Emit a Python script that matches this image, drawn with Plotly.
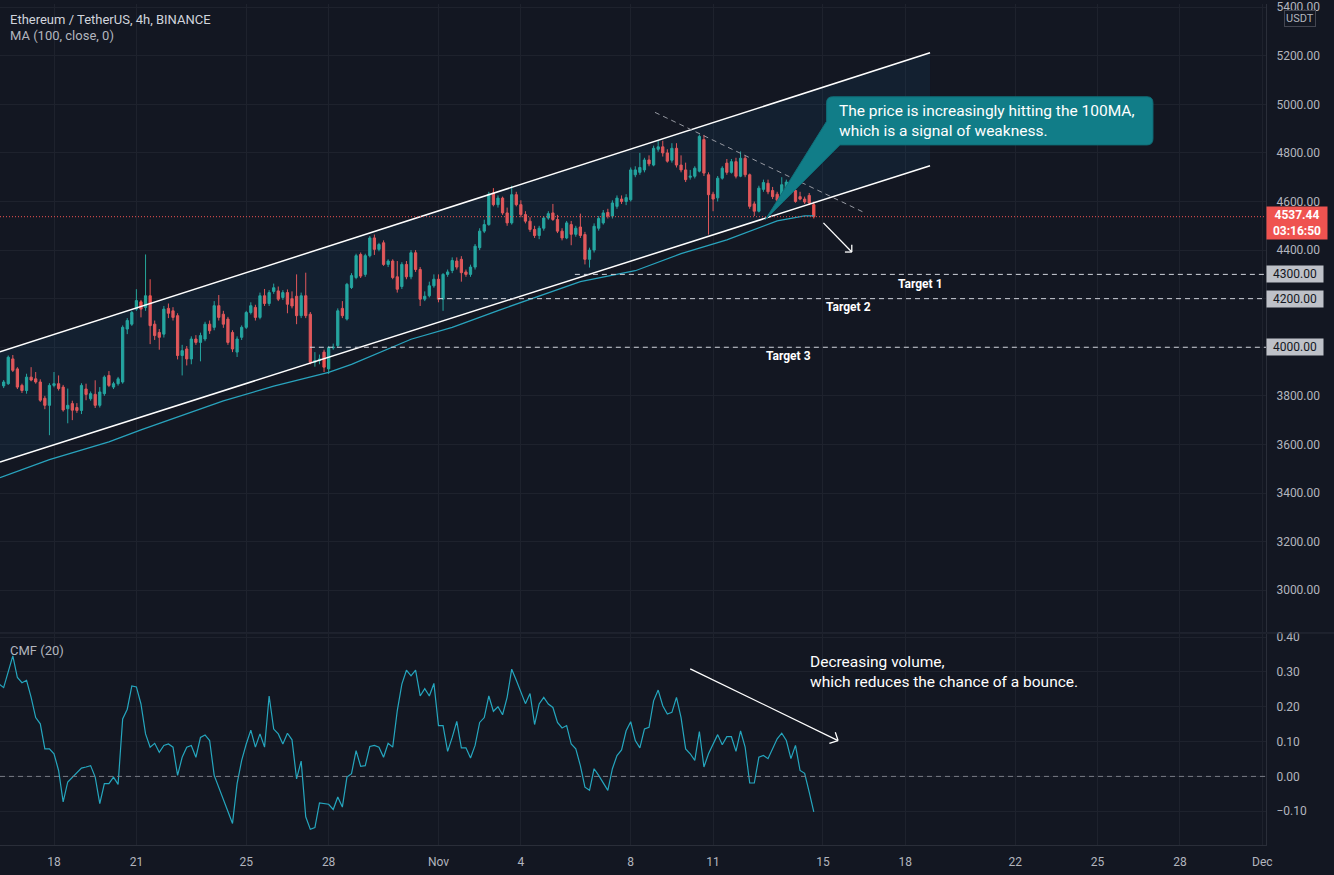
import pandas as pd
import plotly.graph_objects as go
from plotly.subplots import make_subplots

# ---------------- data ----------------
ORIGIN = pd.Timestamp("2021-10-16 00:00")
BAR = pd.Timedelta(hours=4)
FIRST_BAR = pd.Timestamp("2021-10-16 04:00")

opens = [3841,3850,3952,3911,3843,3822,3877,3870,3857,3790,
         3761,3843,3850,3836,3747,3768,3752,3740,3828,3788,
         3806,3761,3809,3884,3836,3850,3857,4075,4095,4157,
         4187,4164,4212,4095,4061,4054,4160,4150,4130,3966,
         3993,3952,4034,4020,4034,4095,4082,4171,4136,4116,
         4061,3980,4041,4082,4143,4164,4123,4212,4180,4230,
         4232,4205,4225,4200,4210,4130,4212,4136,3938,3945,
         3980,3911,3998,4007,4160,4116,4246,4287,4382,4300,
         4377,4450,4403,4430,4341,4355,4290,4250,4341,4290,
         4389,4320,4198,4212,4253,4280,4198,4300,4316,4355,
         4362,4310,4300,4330,4410,4478,4505,4635,4587,4614,
         4553,4512,4628,4587,4546,4519,4485,4460,4490,4532,
         4553,4526,4478,4450,4505,4465,4495,4464,4362,4400,
         4490,4512,4555,4540,4580,4610,4600,4607,4710,4720,
         4730,4771,4750,4815,4825,4800,4770,4819,4750,4730,
         4700,4704,4725,4855,4710,4630,4615,4696,4758,4720,
         4764,4704,4778,4710,4590,4560,4650,4675,4645,4630,
         4605,4650,4670,4645,4620,4610,4625,4587]
highs = [3865,3966,3968,3918,3850,3891,3918,3898,3868,3800,
         3852,3898,3884,3845,3830,3780,3770,3852,3850,3818,
         3864,3836,3884,3902,3858,3878,4090,4120,4150,4239,
         4195,4382,4280,4110,4075,4170,4180,4165,4140,4010,
         4005,4045,4050,4060,4105,4110,4190,4215,4150,4125,
         4070,4045,4090,4150,4185,4175,4225,4240,4235,4262,
         4250,4235,4238,4230,4300,4225,4307,4145,3980,3970,
         3990,4005,4015,4160,4190,4265,4305,4385,4390,4385,
         4458,4464,4430,4440,4362,4362,4355,4350,4355,4400,
         4400,4330,4230,4270,4300,4300,4305,4320,4370,4370,
         4375,4320,4340,4425,4490,4525,4640,4655,4625,4620,
         4575,4665,4640,4605,4560,4535,4500,4500,4540,4560,
         4590,4545,4490,4520,4520,4500,4550,4475,4410,4510,
         4540,4565,4570,4605,4625,4625,4630,4740,4745,4800,
         4780,4790,4830,4850,4850,4815,4840,4840,4790,4760,
         4730,4745,4875,4874,4720,4640,4705,4745,4775,4775,
         4780,4806,4790,4715,4600,4665,4690,4690,4660,4640,
         4700,4690,4680,4655,4640,4620,4635,4600]
lows = [3832,3845,3898,3828,3812,3809,3860,3850,3775,3745,
        3638,3835,3822,3735,3687,3700,3730,3725,3782,3780,
        3750,3752,3800,3836,3828,3842,3850,4054,4088,4150,
        4123,4150,4013,4030,3990,4040,4120,4110,3950,3884,
        3925,3930,4010,3942,4025,4055,4070,4110,4080,4010,
        3980,3960,4030,4075,4135,4110,4115,4170,4170,4220,
        4190,4195,4140,4160,4095,4120,4120,3930,3920,3930,
        3898,3890,3990,4000,4120,4110,4240,4280,4285,4290,
        4370,4380,4395,4335,4330,4280,4225,4240,4280,4280,
        4310,4170,4190,4205,4245,4185,4150,4290,4305,4320,
        4270,4290,4290,4320,4400,4470,4500,4580,4575,4545,
        4500,4505,4580,4535,4510,4475,4450,4445,4480,4525,
        4520,4470,4440,4445,4420,4455,4450,4341,4328,4390,
        4480,4505,4530,4530,4570,4590,4585,4600,4700,4710,
        4720,4745,4745,4805,4785,4760,4760,4740,4720,4680,
        4690,4695,4720,4705,4464,4560,4600,4690,4710,4715,
        4695,4700,4700,4570,4540,4555,4640,4630,4610,4595,
        4600,4640,4630,4595,4605,4590,4585,4530]
closes = [3857,3959,3905,3836,3822,3877,3865,3857,3782,3761,
          3843,3850,3830,3742,3761,3741,3740,3843,3806,3809,
          3761,3816,3877,3843,3850,3870,4082,4110,4143,4192,
          4157,4212,4089,4048,4041,4157,4140,4123,3966,3986,
          3952,4034,4020,4048,4095,4068,4171,4123,4095,4020,
          3993,4034,4082,4143,4171,4123,4212,4180,4225,4245,
          4198,4225,4177,4170,4130,4212,4130,3938,3945,3952,
          3918,3998,4000,4150,4130,4259,4295,4377,4293,4377,
          4450,4403,4423,4341,4355,4287,4239,4341,4290,4389,
          4320,4198,4210,4253,4280,4198,4300,4310,4357,4330,
          4307,4300,4330,4416,4478,4505,4630,4587,4614,4553,
          4512,4628,4587,4546,4519,4485,4460,4490,4532,4550,
          4526,4478,4450,4512,4465,4490,4460,4362,4400,4498,
          4530,4553,4540,4594,4614,4600,4616,4730,4730,4740,
          4771,4755,4819,4825,4800,4766,4819,4750,4730,4690,
          4704,4737,4868,4717,4628,4610,4696,4737,4720,4764,
          4704,4778,4710,4580,4560,4655,4678,4640,4620,4605,
          4669,4680,4640,4600,4610,4598,4594,4537.44]

# MA(100) at selected bars (bar index, price)
ma_idx = [0.2, 11, 24, 31, 49, 60, 72, 77, 90, 99, 109, 119, 127, 139, 149, 159, 170, 176, 178]
ma_val = [3463, 3537, 3611, 3660, 3779, 3840, 3897, 3930, 4033, 4082, 4151, 4217, 4270, 4315,
          4385, 4442, 4520, 4541, 4541]

# CMF(20) (bar index, value)
cmf_idx = [0,1,3,4,5,6,7,8,9,10,11,12,13,14,15,16,17,18,19,20,21,22,23,24,25,26,27,28,29,30,
           31,32,33,34,35,36,37,38,39,40,41,42,43,44,45,46,47,48,49,51,52,53,54,55,56,57,58,59,60,
           61,62,63,64,65,66,67,68,69,70,71,72,73,74,75,76,77,78,79,80,81,82,83,84,85,86,87,88,89,90,
           91,92,93,94,95,96,97,98,99,100,101,102,103,104,105,106,107,108,109,110,111,112,113,114,115,
           116,117,118,119,120,121,122,123,124,125,126,127,128,129,130,131,133,134,135,136,137,138,139,
           140,141,142,143,144,145,146,147,148,149,150,151,152,153,154,155,156,157,158,159,160,161,162,
           163,164,165,166,167,168,169,170,171,172,173,174,175,176,177,178]
cmf_val = [0.265,0.255,0.346,0.284,0.269,0.276,0.227,0.169,0.151,0.079,0.079,0.065,0.017,-0.073,
           -0.016,-0.002,0.012,0.024,0.027,0.031,-0.002,-0.078,-0.021,-0.021,-0.002,-0.023,0.165,
           0.193,0.26,0.257,0.208,0.122,0.084,0.095,0.069,0.089,0.093,0.084,0.003,0.055,0.084,0.089,
           0.055,0.112,0.119,0.103,0.003,-0.031,-0.069,-0.135,-0.021,0.046,0.093,0.133,0.084,0.122,
           0.084,0.231,0.136,0.122,0.093,0.124,0.105,-0.007,0.044,-0.116,-0.152,-0.147,-0.076,-0.078,
           -0.08,-0.095,-0.059,-0.088,-0.002,0.008,0.074,0.029,0.031,0.086,0.089,0.084,0.055,0.095,
           0.084,0.189,0.265,0.305,0.289,0.305,0.231,0.252,0.231,0.267,0.146,0.146,0.072,0.112,0.158,
           0.082,0.082,0.053,0.089,0.155,0.169,0.231,0.187,0.2,0.177,0.227,0.308,0.276,0.241,0.209,
           0.238,0.149,0.208,0.227,0.208,0.198,0.155,0.139,0.146,0.093,0.079,0.031,-0.031,-0.04,0.022,
           0.003,-0.04,0.022,0.06,0.076,0.131,0.157,0.103,0.082,0.136,0.141,0.217,0.248,0.203,0.179,
           0.184,0.227,0.169,0.079,0.065,0.046,0.129,0.027,0.065,0.095,0.12,0.091,0.114,0.114,0.072,
           0.131,0.084,-0.019,-0.019,0.055,0.06,0.051,0.082,0.108,0.124,0.103,0.051,0.089,0.017,0.009,
           -0.045,-0.102]

tick_dates = ["2021-10-18", "2021-10-21", "2021-10-25", "2021-10-28", "2021-11-01", "2021-11-04",
              "2021-11-08", "2021-11-11", "2021-11-15", "2021-11-18", "2021-11-22", "2021-11-25",
              "2021-11-28", "2021-12-01"]
tick_text = ["18", "21", "25", "28", "Nov", "4", "8", "11", "15", "18", "22", "25", "28", "Dec"]

price_ticks = [3000, 3200, 3400, 3600, 3800, 4000, 4200, 4400, 4600, 4800, 5000, 5200, 5400]
cmf_ticks = [-0.1, 0.0, 0.1, 0.2, 0.3, 0.4]

last_price = 4537.44
countdown = "03:16:50"

targets = [4300, 4200, 4000]
target_names = ["Target 1", "Target 2", "Target 3"]
target_start = [125.8, 95.9, 67.9]
target_label_x = [201.4, 185.5, 172.4]
target_label_y = [4262, 4164, 3963]

callout_text = ["The price is increasingly hitting the 100MA,", "which is a signal of weakness."]
cmf_note = ["Decreasing volume,", "which reduces the chance of a bounce."]

# drawings (bar index / price)
channel_x = [0.2, 203.4]
channel_upper = [3981, 5212]
channel_lower = [3528, 4747]
trend_x = [143.3, 189.2]
trend_y = [4967, 4553]

# ---------------- style ----------------
BG = "#131722"
GRID = "#1e222d"
TXT = "#b2b5be"
UP = "#26a69a"
DOWN = "#ef5350"
MA_C = "#29a3bd"
CMF_C = "#25a6be"
TEAL_BOX = "#117d88"
FONT = "Roboto"

X_RANGE = [0.2, 276.8]
Y_RANGE = [2828, 5413]
CMF_RANGE = [-0.197, 0.409]


def bar_index(ts):
    return (pd.Timestamp(ts) - ORIGIN) / BAR


first = bar_index(FIRST_BAR)
candle_x = [first + k for k in range(len(closes))]
tick_vals = [bar_index(d) for d in tick_dates]
price_text = ["" if p in targets else f"{p:.2f}" for p in price_ticks]

fig = make_subplots(rows=2, cols=1, shared_xaxes=True, vertical_spacing=0.002)

# channel fill
fig.add_trace(go.Scatter(
    x=[channel_x[0], channel_x[1], channel_x[1], channel_x[0]],
    y=[channel_upper[0], channel_upper[1], channel_lower[1], channel_lower[0]],
    fill="toself", fillcolor="rgba(33,150,243,0.07)", line=dict(width=0),
    mode="lines", hoverinfo="skip"), row=1, col=1)

fig.add_trace(go.Candlestick(
    x=candle_x, open=opens, high=highs, low=lows, close=closes,
    increasing=dict(line=dict(color=UP, width=1), fillcolor=UP),
    decreasing=dict(line=dict(color=DOWN, width=1), fillcolor=DOWN),
    whiskerwidth=0, hoverinfo="skip"), row=1, col=1)

fig.add_trace(go.Scatter(x=ma_idx, y=ma_val, mode="lines",
                         line=dict(color=MA_C, width=1.3), hoverinfo="skip"), row=1, col=1)

fig.add_trace(go.Scatter(x=cmf_idx, y=cmf_val, mode="lines",
                         line=dict(color=CMF_C, width=1.2), hoverinfo="skip"), row=2, col=1)

shapes = []
# channel lines
for ys in (channel_upper, channel_lower):
    shapes.append(dict(type="line", xref="x", yref="y", x0=channel_x[0], x1=channel_x[1],
                       y0=ys[0], y1=ys[1], line=dict(color="#ffffff", width=1.5)))
# descending dashed line
shapes.append(dict(type="line", xref="x", yref="y", x0=trend_x[0], x1=trend_x[1],
                   y0=trend_y[0], y1=trend_y[1], line=dict(color="#9598a1", width=1, dash="5px,4px")))
# target lines
for p, s in zip(targets, target_start):
    shapes.append(dict(type="line", xref="x", yref="y", x0=s, x1=X_RANGE[1], y0=p, y1=p,
                       line=dict(color="#d1d4dc", width=1, dash="5px,4px")))
# last price dotted line
shapes.append(dict(type="line", xref="x", yref="y", x0=X_RANGE[0], x1=X_RANGE[1],
                   y0=last_price, y1=last_price, line=dict(color=DOWN, width=1, dash="1px,2px")))
# CMF zero line
shapes.append(dict(type="line", xref="x2", yref="y2", x0=X_RANGE[0], x1=X_RANGE[1], y0=0, y1=0,
                   line=dict(color="#787b86", width=1, dash="5px,4px")))
# pane separator
shapes.append(dict(type="line", xref="paper", yref="paper", x0=0, x1=1.06, y0=0.2521, y1=0.2521,
                   line=dict(color="#2a2e39", width=1)))

# callout box with pointer
box_l, box_r, box_t, box_b = 180.8, 252.1, 5031, 4833
rx, ry = 1.3, 25
ptr_a = (180.8, 4930)
tip = (167.4, 4525)
ptr_b = (183.7, 4833)
path = (f"M {box_l+rx},{box_t} L {box_r-rx},{box_t} Q {box_r},{box_t} {box_r},{box_t-ry} "
        f"L {box_r},{box_b+ry} Q {box_r},{box_b} {box_r-rx},{box_b} L {ptr_b[0]},{ptr_b[1]} "
        f"L {tip[0]},{tip[1]} L {ptr_a[0]},{ptr_a[1]} L {box_l},{box_t-ry} "
        f"Q {box_l},{box_t} {box_l+rx},{box_t} Z")
shapes.append(dict(type="path", xref="x", yref="y", path=path, fillcolor=TEAL_BOX,
                   line=dict(color="#0f6f79", width=1)))

# white arrow (price pane)
arrow1 = dict(tail=(180.1, 4512), head=(186.3, 4392), arm1=(184.8, 4392), arm2=(186.3, 4422))
for a, b in [(arrow1["tail"], arrow1["head"]), (arrow1["arm1"], arrow1["head"]),
             (arrow1["arm2"], arrow1["head"])]:
    shapes.append(dict(type="line", xref="x", yref="y", x0=a[0], y0=a[1], x1=b[0], y1=b[1],
                       line=dict(color="#ffffff", width=1.3)))
# white arrow (CMF pane)
arrow2 = dict(tail=(151.0, 0.309), head=(183.3, 0.103), arm1=(181.4, 0.095), arm2=(182.7, 0.127))
for a, b in [(arrow2["tail"], arrow2["head"]), (arrow2["arm1"], arrow2["head"]),
             (arrow2["arm2"], arrow2["head"])]:
    shapes.append(dict(type="line", xref="x2", yref="y2", x0=a[0], y0=a[1], x1=b[0], y1=b[1],
                       line=dict(color="#ffffff", width=1.3)))

ann = []
ann.append(dict(xref="paper", yref="paper", x=0.006, y=(845 - 16) / 845, xanchor="left",
                yanchor="middle", text="Ethereum / TetherUS, 4h, BINANCE", showarrow=False,
                font=dict(family=FONT, size=13, color="#d1d4dc")))
ann.append(dict(xref="paper", yref="paper", x=0.006, y=(845 - 32) / 845, xanchor="left",
                yanchor="middle", text="MA (100, close, 0)", showarrow=False,
                font=dict(family=FONT, size=13, color="#b2b5be")))
ann.append(dict(xref="paper", yref="paper", x=0.006, y=(845 - 650) / 845, xanchor="left",
                yanchor="middle", text="CMF (20)", showarrow=False,
                font=dict(family=FONT, size=13, color="#b2b5be")))
# callout text (single block)
ann.append(dict(xref="x", yref="y", x=183.0, y=4930, xanchor="left", yanchor="middle",
                text="<br>".join(callout_text), showarrow=False, align="left",
                font=dict(family=FONT, size=15.5, color="#ffffff")))
# CMF note (single block)
ann.append(dict(xref="x2", yref="y2", x=176.8, y=0.301, xanchor="left", yanchor="middle",
                text="<br>".join(cmf_note), showarrow=False, align="left",
                font=dict(family=FONT, size=15.5, color="#ffffff")))
# target labels
for name, tx, ty in zip(target_names, target_label_x, target_label_y):
    ann.append(dict(xref="x", yref="y", x=tx, y=ty, xanchor="center", yanchor="middle",
                    text=f"<b>{name}</b>", showarrow=False,
                    font=dict(family=FONT, size=12, color="#ffffff")))
# axis price tags
for p in targets:
    ann.append(dict(xref="paper", yref="y", x=1.0, y=p, xanchor="left", yanchor="middle",
                    text=f"{p:.2f}", showarrow=False, bgcolor="#bec1c8", width=54, height=14,
                    borderpad=1, font=dict(family=FONT, size=12, color="#131722")))
ann.append(dict(xref="paper", yref="y", x=1.0, y=4510, xanchor="left", yanchor="middle",
                text=f"<b>{last_price:.2f}</b><br><b>{countdown}</b>", showarrow=False,
                bgcolor=DOWN, width=58, borderpad=1,
                font=dict(family=FONT, size=12, color="#ffffff")))
ann.append(dict(xref="paper", yref="paper", x=1.0269, y=(845 - 15) / 845, xanchor="center",
                yanchor="middle", text="USDT", showarrow=False, bordercolor="#434651",
                borderwidth=1, borderpad=1, font=dict(family=FONT, size=11, color=TXT)))

fig.update_layout(
    width=1334, height=875,
    margin=dict(l=0, r=68, t=0, b=30),
    paper_bgcolor=BG, plot_bgcolor=BG,
    showlegend=False,
    shapes=shapes, annotations=ann,
    font=dict(family=FONT, size=12, color=TXT),
    hovermode=False,
)
fig.update_xaxes(range=X_RANGE, tickvals=tick_vals, ticktext=tick_text, showgrid=True,
                 gridcolor=GRID, gridwidth=1, zeroline=False, rangeslider_visible=False,
                 tickfont=dict(family=FONT, size=12, color=TXT), ticks="")
fig.update_xaxes(showticklabels=False, row=1, col=1)
fig.update_xaxes(showline=True, linecolor="#2a2e39", ticklabelstandoff=6, row=2, col=1)
fig.update_layout(
    yaxis=dict(domain=[0.2533, 1.0], range=Y_RANGE, side="right", tickvals=price_ticks,
               ticktext=price_text, showgrid=True, gridcolor=GRID, zeroline=False,
               showline=True, linecolor="#2a2e39", ticks="", ticklabelstandoff=7,
               tickfont=dict(family=FONT, size=12, color=TXT)),
    yaxis2=dict(domain=[0.0, 0.2509], range=CMF_RANGE, side="right", tickvals=cmf_ticks,
                tickformat=".2f", showgrid=True, gridcolor=GRID, zeroline=False, showline=True,
                linecolor="#2a2e39", ticks="", ticklabelstandoff=7,
                tickfont=dict(family=FONT, size=12, color=TXT)),
)

fig.write_html("out.html", config={"displayModeBar": False},
               post_script="document.body.style.margin='0px';")
